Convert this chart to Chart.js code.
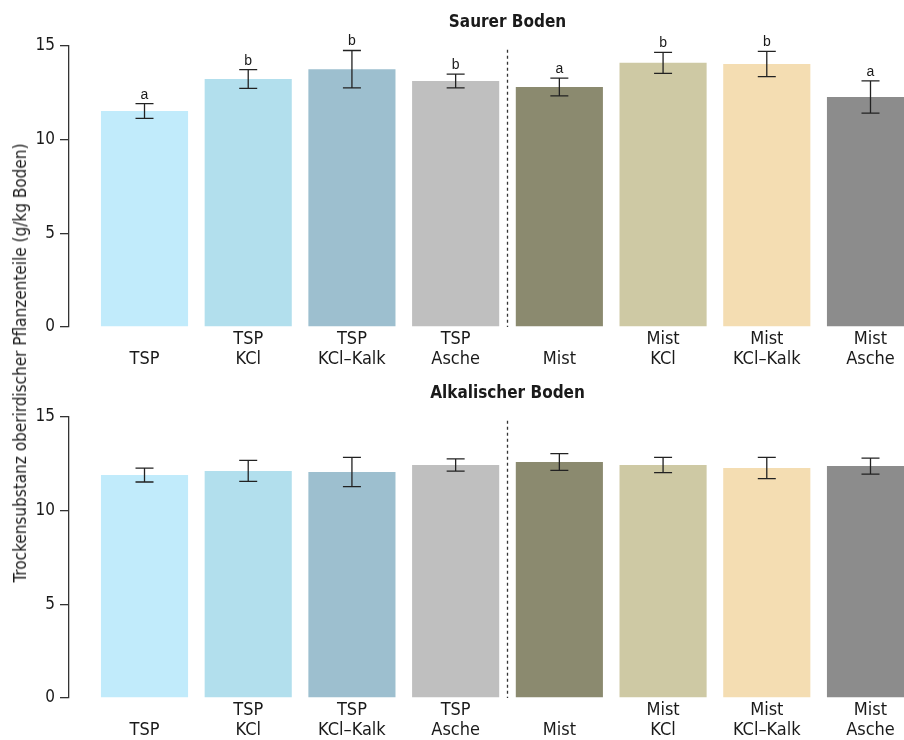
<!DOCTYPE html>
<html lang="de">
<head>
<meta charset="utf-8">
<script src="https://cdn.jsdelivr.net/npm/chart.js@4.4.1/dist/chart.umd.min.js"></script>
<style>
  html, body { margin: 0; padding: 0; background: #fff; overflow: hidden; }
  #wrap { position: relative; width: 904px; height: 740px; overflow: hidden; }
  .panel { position: absolute; left: 0; width: 904px; height: 380px; }
  #top { top: 0; }
  #bottom { top: 370px; }
  #yTitle {
    position: absolute; left: 20px; top: 363px;
    transform: translate(-50%, -50%) rotate(-90deg);
    white-space: nowrap; color: #1a1a1a;
    font: 17px "Liberation Sans Narrow", "DejaVu Sans Condensed", "Open Sans", sans-serif;
  }
</style>
</head>
<body>
<div id="wrap">
  <div class="panel" id="top"><canvas id="sauerChart" width="904" height="380"></canvas></div>
  <div class="panel" id="bottom"><canvas id="alkChart" width="904" height="380"></canvas></div>
  <div id="yTitle">Trockensubstanz oberirdischer Pflanzenteile (g/kg Boden)</div>
</div>
<script>
// categories (single labels sit on the second line)
var categories = [
  ['', 'TSP'], ['TSP', 'KCl'], ['TSP', 'KCl\u2013Kalk'], ['TSP', 'Asche'],
  ['', 'Mist'], ['Mist', 'KCl'], ['Mist', 'KCl\u2013Kalk'], ['Mist', 'Asche']
];
var barColors = ['#c1ebfb', '#b2dfed', '#9dbfcf', '#bfbfbf', '#8b8a6f', '#cec9a4', '#f4ddb2', '#8c8c8c'];

// Saurer Boden
var sauerMean = [11.53, 13.24, 13.76, 13.13, 12.81, 14.10, 14.04, 12.28];
var sauerErr = [0.39, 0.50, 1.00, 0.37, 0.47, 0.56, 0.67, 0.86];
var sauerLetters = ['a', 'b', 'b', 'b', 'a', 'b', 'b', 'a'];

// Alkalischer Boden
var alkMean = [11.90, 12.12, 12.06, 12.44, 12.60, 12.44, 12.28, 12.38];
var alkErr = [0.37, 0.56, 0.78, 0.33, 0.45, 0.41, 0.57, 0.43];
var alkLetters = [];

var yTicks = [0, 5, 10, 15];

var FONT = '"Liberation Sans Narrow", "DejaVu Sans Condensed", "Open Sans", sans-serif';
var INK = '#1a1a1a';

Chart.defaults.font.family = FONT;
Chart.defaults.color = INK;

// error bars, letters, dashed separator and panel title
var panelDecor = {
  id: 'panelDecor',
  afterDatasetsDraw: function(chart, args, opts) {
    var ctx = chart.ctx;
    var x = chart.scales.x, y = chart.scales.y;
    var mean = chart.data.datasets[0].data;
    ctx.save();

    // separator between TSP and Mist groups
    ctx.strokeStyle = '#333';
    ctx.lineWidth = 1.3;
    ctx.setLineDash([3, 3]);
    ctx.beginPath();
    ctx.moveTo(x.getPixelForValue(3.5), y.getPixelForValue(14.8));
    ctx.lineTo(x.getPixelForValue(3.5), y.getPixelForValue(0));
    ctx.stroke();
    ctx.setLineDash([]);

    ctx.strokeStyle = '#222';
    ctx.fillStyle = INK;
    ctx.font = '14px "Liberation Sans", Arial, sans-serif';
    ctx.textAlign = 'center';
    ctx.textBaseline = 'alphabetic';
    mean.forEach(function(d, i) {
      var cx = x.getPixelForValue(d.x);
      var hi = y.getPixelForValue(d.y + opts.err[i]);
      var lo = y.getPixelForValue(d.y - opts.err[i]);
      ctx.beginPath();
      ctx.moveTo(cx, hi); ctx.lineTo(cx, lo);
      ctx.moveTo(cx - 9, hi); ctx.lineTo(cx + 9, hi);
      ctx.moveTo(cx - 9, lo); ctx.lineTo(cx + 9, lo);
      ctx.stroke();
      if (opts.letters[i]) ctx.fillText(opts.letters[i], cx, hi - 5);
    });

    ctx.font = 'bold 17px ' + FONT;
    ctx.textBaseline = 'middle';
    ctx.fillText(opts.title, x.getPixelForValue(3.5), chart.chartArea.top - 23);
    ctx.restore();
  }
};

function makePanel(id, title, mean, err, letters, padTop, xHeight) {
  new Chart(document.getElementById(id), {
    type: 'bar',
    data: {
      datasets: [{
        data: mean.map(function(v, i) { return { x: i, y: v }; }),
        backgroundColor: barColors,
        borderWidth: 0,
        categoryPercentage: 1,
        barPercentage: 0.84
      }]
    },
    options: {
      responsive: false,
      animation: false,
      layout: { padding: { top: padTop, left: 0, right: 0, bottom: 0 } },
      plugins: {
        legend: { display: false },
        tooltip: { enabled: false },
        panelDecor: { title: title, err: err, letters: letters }
      },
      scales: {
        x: {
          type: 'linear',
          offset: false,
          min: -0.728,
          max: 7.323,
          grid: { display: false, drawTicks: false },
          border: { display: false },
          afterBuildTicks: function(s) {
            s.ticks = categories.map(function(c, i) { return { value: i }; });
          },
          afterFit: function(s) { s.height = xHeight; },
          ticks: {
            autoSkip: false,
            maxRotation: 0,
            padding: 2,
            color: INK,
            font: { size: 18, lineHeight: 1.14 },
            callback: function(v) { return categories[v]; }
          }
        },
        y: {
          min: 0,
          max: 15,
          afterBuildTicks: function(s) {
            s.ticks = yTicks.map(function(v) { return { value: v }; });
          },
          afterFit: function(s) { s.width = 69; },
          grid: { drawOnChartArea: false, tickLength: 9, color: '#333', lineWidth: 1.3 },
          border: { color: '#333', width: 1.3 },
          ticks: { padding: 5, color: INK, font: { size: 17 } }
        }
      }
    },
    plugins: [panelDecor]
  });
}

makePanel('sauerChart', 'Saurer Boden', sauerMean, sauerErr, sauerLetters, 46, 53);
makePanel('alkChart', 'Alkalischer Boden', alkMean, alkErr, alkLetters, 47, 52);
</script>
</body>
</html>
